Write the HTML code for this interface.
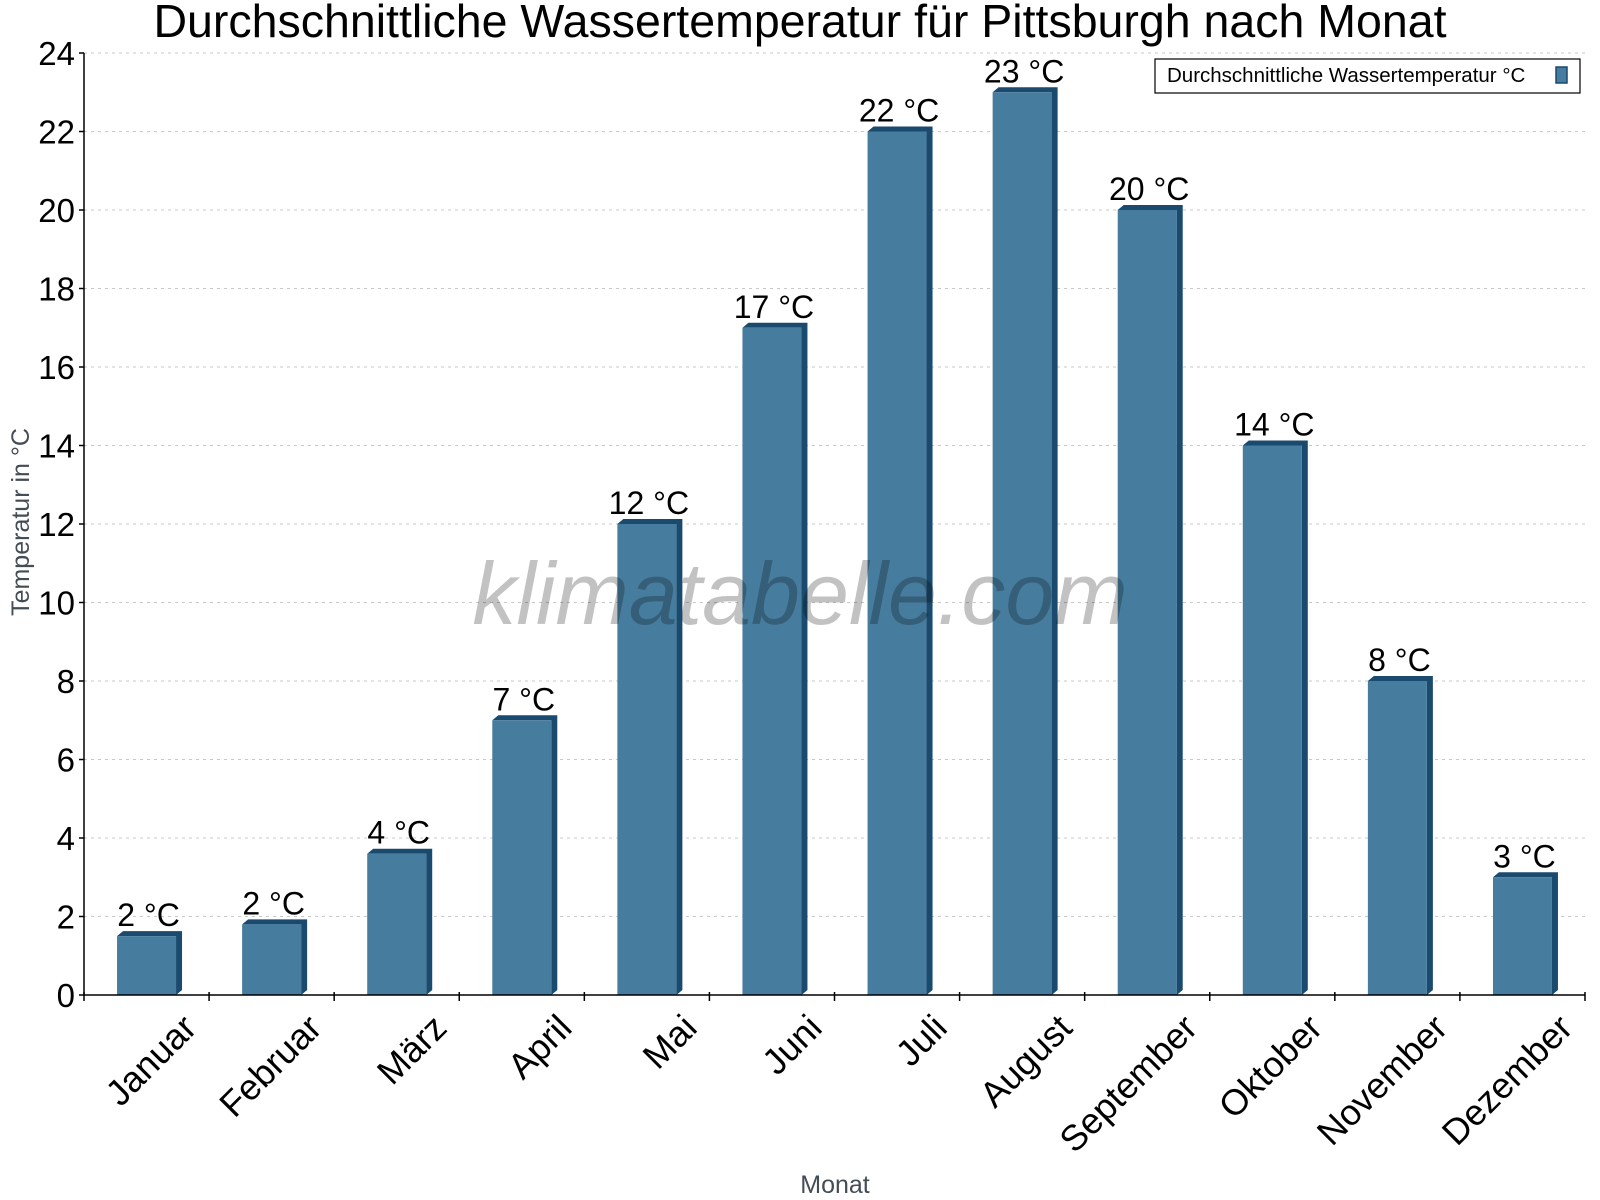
<!DOCTYPE html>
<html><head><meta charset="utf-8"><style>
body{margin:0;background:#fff;}
svg{display:block;font-family:"Liberation Sans",sans-serif;}
</style></head><body>
<svg id="chart" width="1600" height="1200">
<text x="800" y="37" font-size="46.5" text-anchor="middle" fill="#000">Durchschnittliche Wassertemperatur für Pittsburgh nach Monat</text>
<g id="grid"></g>
<g id="bars"></g>
<g id="axes"></g>
<text x="800" y="624" font-size="88" font-style="italic" text-anchor="middle" fill="#000" fill-opacity="0.24">klimatabelle.com</text>
<text transform="translate(29,522) rotate(-90)" font-size="25" text-anchor="middle" fill="#444c55">Temperatur in °C</text>
<text x="835" y="1193" font-size="25" text-anchor="middle" fill="#444c55">Monat</text>
<g>
<rect x="1155" y="59" width="425" height="34" fill="#fff" stroke="#000" stroke-width="1.2"/>
<text x="1167" y="82" font-size="20.5" fill="#000">Durchschnittliche Wassertemperatur °C</text>
<rect x="1556" y="67" width="11" height="16" fill="#467c9e" stroke="#1a4a6e" stroke-width="1.5"/>
</g>
</svg>
<script>
const categories=["Januar","Februar","März","April","Mai","Juni","Juli","August","September","Oktober","November","Dezember"];
const values=[1.5,1.8,3.6,7,12,17,22,23,20,14,8,3];
const valueLabels=["2 °C","2 °C","4 °C","7 °C","12 °C","17 °C","22 °C","23 °C","20 °C","14 °C","8 °C","3 °C"];
const yTicks=[0,2,4,6,8,10,12,14,16,18,20,22,24];
const NS="http://www.w3.org/2000/svg";
const L=84,R=1585,T=53,B=995,yMax=24;
const bw=(R-L)/categories.length;
const y=v=>B-(B-T)*v/yMax;
const x=i=>L+bw*i;
function mk(tag,attrs,parent,txt){const e=document.createElementNS(NS,tag);for(const k in attrs)e.setAttribute(k,attrs[k]);if(txt!==undefined)e.textContent=txt;parent.appendChild(e);return e;}
const grid=document.getElementById('grid'),bars=document.getElementById('bars'),axes=document.getElementById('axes');
yTicks.forEach(t=>{
 const g=mk('line',{x1:L,x2:R,y1:y(t),y2:y(t),stroke:'#c8c8c8','stroke-dasharray':'3,4'},grid);
 
 
 const tk=mk('line',{x1:L-5,x2:L,y1:y(t),y2:y(t),stroke:'#000','stroke-width':1.5},axes);
 
 
 const lb=mk('text',{x:L-9,y:y(t)+12,'font-size':33,'text-anchor':'end',fill:'#000'},axes,String(t));
 
 
});
const fw=59,sd=6,dp=5;
values.forEach((v,i)=>{
 const c=x(i)+bw/2,x0=c-fw/2,yt=y(v);
 const g=mk('g',{},bars);
 
 
 mk('polygon',{points:`${x0},${yt} ${x0+sd},${yt-dp} ${x0+fw+sd},${yt-dp} ${x0+fw+sd},${B-dp} ${x0+fw},${B} ${x0+fw},${yt}`,fill:'#1a4a6e'},g);
 mk('rect',{x:x0,y:yt,width:fw,height:B-yt,fill:'#467c9e'},g);
 const lb=mk('text',{x:c+2,y:yt-10,'font-size':32,'text-anchor':'middle',fill:'#000'},bars,valueLabels[i]);
 
 
 const cl=mk('text',{transform:`translate(${c+52},${1030}) rotate(-45)`,'font-size':36,'text-anchor':'end',fill:'#000'},axes,categories[i]);
 
 
});
for(let i=0;i<=categories.length;i++){
 const tk=mk('line',{x1:x(i),x2:x(i),y1:B-3,y2:B+6,stroke:'#000','stroke-width':1.5},axes);
 
 
}
const ya=mk('line',{x1:L,x2:L,y1:T,y2:B,stroke:'#000','stroke-width':1.5},axes);


const xa=mk('line',{x1:L,x2:R,y1:B,y2:B,stroke:'#000','stroke-width':1.5},axes);


</script>
</body></html>
